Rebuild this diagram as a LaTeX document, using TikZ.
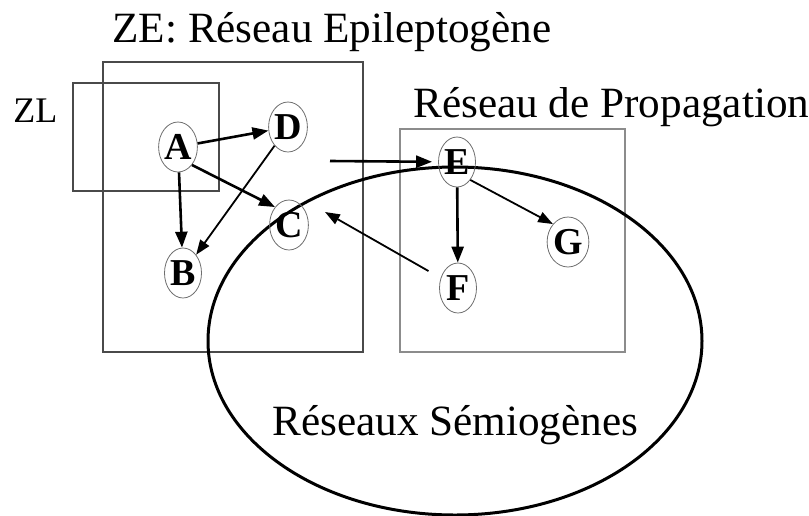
\documentclass[tikz,border=0pt]{standalone}
\usepackage{fontspec}
\setmainfont{Liberation Serif}
\usetikzlibrary{arrows.meta,shapes.geometric,positioning,calc}
\definecolor{zonegrey}{HTML}{4A4A4A}
\definecolor{proplight}{HTML}{8C8C8C}
\definecolor{sitegrey}{HTML}{6E6E6E}

\begin{document}
\begin{tikzpicture}[x=0.5pt, y=-0.5pt,
  zone/.style={draw=zonegrey, line width=0.9pt},
  site/.style={ellipse, draw=sitegrey, line width=0.4pt, inner sep=0pt,
               minimum width=18.5pt, minimum height=25pt,
               font=\fontsize{19}{19}\selectfont\bfseries},
  ttl/.style={anchor=base west, inner sep=0pt, font=\fontsize{21.6}{22}\selectfont},
  link/.style={line width=1.3pt, -{Triangle[length=2.8mm,width=2.1mm]}},
  thin link/.style={line width=0.9pt, -{Triangle[length=2.6mm,width=1.9mm]}}]
\useasboundingbox (0,0) rectangle (809,515);

% ================================================================== zones
\draw[zone] (103,62) rectangle (363,352);                   % ZE
\draw[zone, line width=0.7pt] (73,83) rectangle (219,191);  % ZL
\draw[zone, draw=proplight, line width=1.1pt] (400,129) rectangle (625,352);   % propagation
\node[ttl] (tZE) at (112,42) {ZE: Réseau Epileptogène};
\node[ttl, font=\fontsize{18}{18}\selectfont] (tZL) at (13,122) {ZL};
\node[ttl] (tRP) at (413,117) {Réseau de Propagation};

% semiogenic networks
\draw[line width=1.5pt] (455,341) ellipse [x radius=247, y radius=174];
\node[ttl] (tRS) at (272,435) {Réseaux Sémiogènes};

% ================================================================== sites
\node[site] (A) at (178,147) {A};
\node[site] (D) at (288,127) {D};
\node[site] (C) at (289,225) {C};
\node[site] (B) at (183,273) {B};
\node[site] (E) at (457,162) {E};
\node[site] (F) at (458,288) {F};
\node[site] (G) at (568,242) {G};

% ================================================================== links
\draw[link] (A) -- (D);
\draw[link] (A) -- (B);
\draw[link] (A.south east) -- (C.north west);
\draw[thin link] (D) -- (B);
\coordinate (inE) at (330,161);
\draw[link, shorten >=3pt] (inE) -- (E);
\draw[link] (E) -- (F);
\draw[thin link] (E.south east) -- (G.north west);
\coordinate (toC) at ($(C)+(36,-13)$);
\draw[thin link, shorten <=7pt] (F.150) -- (toC);
\end{tikzpicture}
\end{document}
